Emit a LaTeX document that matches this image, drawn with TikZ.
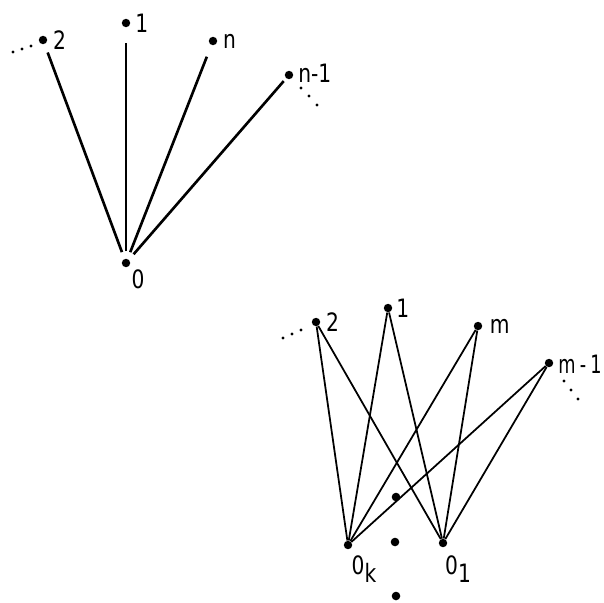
\documentclass[tikz,border=0pt]{standalone}
\usepackage{fontspec}
\newfontfamily\dinfont[FakeStretch=0.8]{DejaVu Sans}
\newfontfamily\dinnarrow[FakeStretch=0.7]{DejaVu Sans}
\usetikzlibrary{positioning}

\begin{document}
\begin{tikzpicture}[x=0.02cm,y=-0.02cm,
    vtx/.style={circle,fill,inner sep=0pt,minimum size=4.8pt},
    lbl/.style={font=\dinfont\Large,inner sep=1pt},
    star/.style={line width=1.5pt,shorten >=5pt,shorten <=4pt},
    bip/.style={line width=1pt}]
    \useasboundingbox (0,0) rectangle (604,602);

    % Star with centre 0
    \node[vtx] (t0) at (126,263) {};
    \node[vtx] (t2) at (43,40) {};
    \node[vtx] (t1) at (126,23) {};
    \node[vtx] (tn) at (213,41) {};
    \node[vtx] (tn1) at (289,75) {};

    \node[lbl,right=2pt of t2] (l2) {2};
    \node[lbl,right=1.5pt of t1] (l1) {1};
    \node[lbl,right=2pt of tn] (ln) {n};
    \node[lbl,right=1.5pt of tn1,yshift=1pt] (ln1) {n-1};
    \node[lbl] (l0) at (138,279) {0};

    \draw[star] (t0) -- (t2);
    \draw[star,shorten >=9pt] (t0) -- (t1);
    \draw[star,shorten >=7pt] (t0) -- (tn);
    \draw[star,shorten >=2pt] (t0) -- (tn1);

    \foreach \p in {(13,52),(22,49),(31,46),(301,88),(309,96),(317,105)}
        \fill \p circle (1.6);

    % Bipartite part
    \node[vtx] (bk) at (348,545) {};
    \node[vtx] (bo) at (443,543) {};
    \node[vtx] (b2) at (316,322) {};
    \node[vtx] (b1) at (388,308) {};
    \node[vtx] (bm) at (478,326) {};
    \node[vtx] (bm1) at (549,363) {};

    \node[lbl,right=2pt of b2] (k2) {2};
    \node[lbl,right=1pt of b1] (k1) {1};
    \node[lbl,right=3pt of bm] (km) {m};
    \node[lbl,font=\dinnarrow\Large,inner sep=0pt,right=2.5pt of bm1,yshift=-1pt] (km1) {m\,-\,1};
    \node[lbl] (kk) at (364,569) {0\raisebox{-5pt}{k}};
    \node[lbl] (ko) at (458,569) {0\raisebox{-5pt}{1}};

    \foreach \a in {bk,bo}
        \foreach \b in {b2,b1,bm,bm1}
            \draw[bip] (\a) -- (\b);

    \foreach \p in {(283,338),(292,334),(301,330),(564,381),(571,390),(578,399)}
        \fill \p circle (1.6);
    \foreach \p in {(396,497),(395,542),(396,596)}
        \fill \p circle (4.3);
\end{tikzpicture}
\end{document}
